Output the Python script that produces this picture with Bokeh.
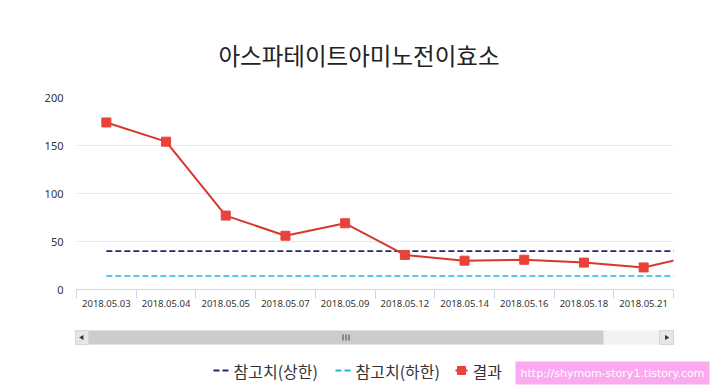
from bokeh.plotting import figure
from bokeh.models import Range1d, FixedTicker
from bokeh.layouts import column
from bokeh.embed import file_html
from bokeh.resources import INLINE
from bokeh.core.properties import value

# ---- data ----
dates = ["2018.05.03", "2018.05.04", "2018.05.05", "2018.05.07", "2018.05.09",
         "2018.05.12", "2018.05.14", "2018.05.16", "2018.05.18", "2018.05.21",
         "2018.05.23"]
result = [174, 154, 77, 56, 69, 36, 30, 31, 28, 23, 37]
upper = [40, 40, 40, 40, 40, 40, 40, 40, 40, 40, 40]
lower = [14, 14, 14, 14, 14, 14, 14, 14, 14, 14, 14]
y_ticks = [0, 50, 100, 150, 200]
visible_count = 10

title_text = "아스파테이트아미노전이효소"
legend_labels = ["참고치(상한)", "참고치(하한)", "결과"]
watermark_text = "http://shymom-story1.tistory.com"

# ---- style ----
KFONT = "Noto Sans CJK KR"
NAVY = "#1b2c6b"
CYAN = "#22b6e3"
RED = "#e8423a"
RED_LINE = "#d8372d"

xs = [i + 0.5 for i in range(len(dates))]

p = figure(width=720, height=324,
           x_range=Range1d(0, visible_count), y_range=Range1d(0, 200),
           output_backend="svg", toolbar_location=None,
           min_border_left=76, min_border_right=47,
           min_border_top=97, min_border_bottom=35,
           title=title_text)
p.frame_align = False
p.title.text_font = KFONT
p.title.text_font_size = "23.5px"
p.title.text_font_style = "normal"
p.title.text_color = "#222222"
p.title.align = "left"
p.title.offset = 142
p.title.standoff = 52
p.outline_line_color = None

# axes
p.yaxis.ticker = FixedTicker(ticks=y_ticks)
p.yaxis.axis_line_color = None
p.yaxis.major_tick_line_color = None
p.yaxis.major_tick_out = 0
p.yaxis.major_tick_in = 0
p.yaxis.minor_tick_line_color = None
p.yaxis.major_label_text_font = "Noto Sans"
p.yaxis.major_label_text_font_size = "11px"
p.yaxis.major_label_text_color = "#333333"
p.yaxis.major_label_standoff = 13

p.xaxis.ticker = FixedTicker(ticks=xs, minor_ticks=list(range(visible_count + 1)))
p.xaxis.major_label_overrides = {x: d for x, d in zip(xs, dates)}
p.xaxis.axis_line_color = "#ccd6eb"
p.xaxis.major_tick_line_color = None
p.xaxis.major_tick_out = 0
p.xaxis.major_tick_in = 0
p.xaxis.minor_tick_line_color = "#ccd6eb"
p.xaxis.minor_tick_out = 9
p.xaxis.minor_tick_in = 0
p.xaxis.major_label_text_font = "Noto Sans"
p.xaxis.major_label_text_font_size = "9.5px"
p.xaxis.major_label_text_color = "#333333"
p.xaxis.major_label_standoff = 1

p.xgrid.visible = False
p.ygrid.ticker = FixedTicker(ticks=y_ticks[1:])
p.ygrid.grid_line_color = "#e9e9e9"

# series
p.line(xs, upper, line_color=NAVY, line_width=1.6, line_dash="6 3")
p.line(xs, lower, line_color=CYAN, line_width=1.6, line_dash="6 3")
p.line(xs, result, line_color=RED_LINE, line_width=2)
p.scatter(xs, result, marker="square", size=9, fill_color=RED, line_color=RED)

# ---- bottom strip: scrollbar, legend, watermark (pixel coordinates) ----
q = figure(width=720, height=64, x_range=Range1d(0, 720), y_range=Range1d(64, 0),
           output_backend="svg", toolbar_location=None,
           x_axis_location=None, y_axis_location=None,
           min_border_left=0, min_border_right=0, min_border_top=0, min_border_bottom=0)
q.frame_align = False
q.grid.visible = False
q.outline_line_color = None

# scrollbar
q.quad(left=[75], right=[673], top=[6], bottom=[20], fill_color="#f2f2f2", line_color=None)
q.quad(left=[88], right=[603], top=[6], bottom=[20], fill_color="#cccccc", line_color=None)
q.quad(left=[75, 659], right=[88, 673], top=[6, 6], bottom=[20, 20],
       fill_color="#e6e6e6", line_color="#d6d6d6")
q.scatter([81.5], [13], marker="triangle", size=5, angle=1.5708, fill_color="#333333", line_color=None)
q.scatter([666], [13], marker="triangle", size=5, angle=-1.5708, fill_color="#333333", line_color=None)
gx = 345.5
q.segment(x0=[gx - 3, gx, gx + 3], y0=[10, 10, 10], x1=[gx - 3, gx, gx + 3], y1=[16, 16, 16],
          line_color="#444444", line_width=1)

# legend
ly = 46
q.segment(x0=[213], y0=[ly], x1=[230], y1=[ly], line_color=NAVY, line_width=2, line_dash="6 3")
q.segment(x0=[335], y0=[ly], x1=[352], y1=[ly], line_color=CYAN, line_width=2, line_dash="6 3")
q.segment(x0=[455], y0=[ly], x1=[467], y1=[ly], line_color=RED_LINE, line_width=2)
q.scatter([461], [ly], marker="square", size=8, fill_color=RED, line_color=RED)
q.text(x=[233, 355, 472], y=[ly, ly, ly], text=legend_labels,
       text_font=value(KFONT), text_font_size="16px", text_color="#333333",
       text_baseline="middle", text_align="left")

# watermark
q.quad(left=[515], right=[709], top=[37], bottom=[60], fill_color="#fcaaf0", line_color=None)
q.text(x=[612], y=[48.5], text=[watermark_text], text_font=value("DejaVu Sans"),
       text_font_size="11px", text_color="white", text_baseline="middle", text_align="center")

layout = column(p, q, spacing=0)
open("out.html", "w").write(file_html(layout, INLINE))
